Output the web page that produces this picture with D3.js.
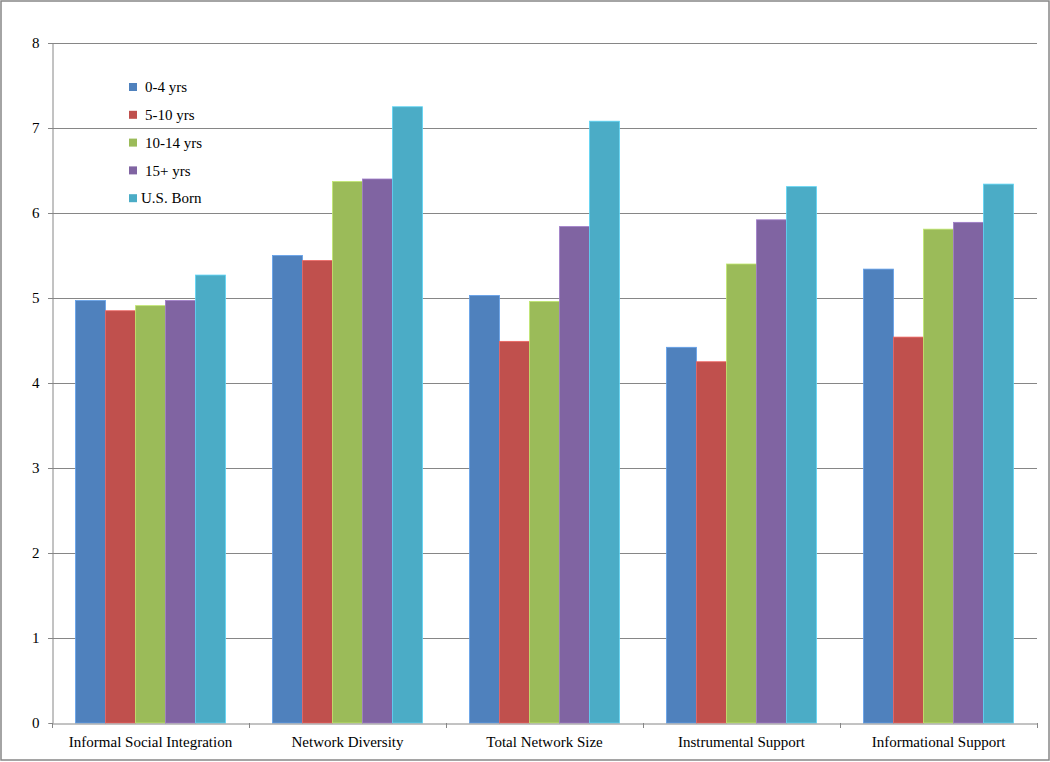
<!DOCTYPE html>
<html><head><meta charset="utf-8">
<script src="https://cdn.jsdelivr.net/npm/d3@7"></script>
<style>
html,body{margin:0;padding:0;background:#fff;}
svg{display:block;font-family:"Liberation Serif","Times New Roman",serif;}
</style></head>
<body>
<svg id="chart" width="1050" height="762"></svg>
<script>
const categories = ["Informal Social Integration","Network Diversity","Total Network Size","Instrumental Support","Informational Support"];
const seriesNames = ["0-4 yrs","5-10 yrs","10-14 yrs","15+ yrs","U.S. Born"];
const colors = ["#4F81BD","#C0504D","#9BBB59","#8064A2","#4BACC6"];
const s0_4 = [4.97,5.50,5.03,4.42,5.34];
const s5_10 = [4.85,5.44,4.49,4.25,4.54];
const s10_14 = [4.91,6.37,4.96,5.40,5.81];
const s15 = [4.97,6.40,5.84,5.92,5.89];
const sUS = [5.27,7.25,7.08,6.31,6.34];
const yTicks = [0,1,2,3,4,5,6,7,8];
const seriesValues = [s0_4,s5_10,s10_14,s15,sUS];

const svg = d3.select("#chart");
const L = 52, R = 1037, T = 43, B = 723;

svg.append("rect").attr("x",1).attr("y",1).attr("width",1048).attr("height",759)
  .attr("fill","#fff").attr("stroke","#878787").attr("stroke-width",1.5);

const x0 = d3.scaleBand().domain(categories).range([L,R]).padding(0);
const x1 = d3.scaleBand().domain(seriesNames).range([0,x0.bandwidth()]).paddingInner(0).paddingOuter(0.783);
const y = d3.scaleLinear().domain([0,8]).range([B,T]);

// gridlines
svg.append("g").selectAll("line").data(yTicks.filter(d=>d>0)).join("line")
  .attr("x1",L-4).attr("x2",R).attr("y1",d=>Math.round(y(d))+0.5).attr("y2",d=>Math.round(y(d))+0.5)
  .attr("stroke","#868686").attr("stroke-width",1);

// bars
const groups = svg.append("g").selectAll("g").data(categories).join("g")
  .attr("transform",d=>`translate(${x0(d)},0)`);
groups.selectAll("rect").data((c,ci)=>seriesNames.map((s,si)=>({s,si,v:seriesValues[si][ci]}))).join("rect")
  .attr("x",d=>x1(d.s)).attr("width",x1.bandwidth())
  .attr("y",d=>y(d.v)).attr("height",d=>B-y(d.v))
  .attr("fill",d=>colors[d.si])
  .attr("stroke",d=>d3.color(colors[d.si]).brighter(0.6)).attr("stroke-width",0.8);

// y axis
const yAxis = d3.axisLeft(y).tickValues(yTicks).tickSize(4).tickPadding(9).tickFormat(d3.format("d"));
const ya = svg.append("g").attr("transform",`translate(${L+0.5},0)`).call(yAxis);
ya.select(".domain").attr("stroke","#868686");
ya.selectAll(".tick line").attr("stroke","#868686");
ya.selectAll(".tick text").attr("font-size",15).attr("fill","#000").attr("font-family","Liberation Serif");

// x axis
const xa = svg.append("g").attr("transform",`translate(0,${B+0.5})`)
  .call(d3.axisBottom(x0).tickSize(0).tickPadding(13));
xa.select(".domain").attr("stroke","#868686");
xa.selectAll(".tick text").attr("font-size",15).attr("fill","#000").attr("font-family","Liberation Serif");
// category boundary ticks
const bounds = categories.map(c=>x0(c)).concat([x0(categories[categories.length-1])+x0.bandwidth()]);
svg.append("g").selectAll("line").data(bounds).join("line")
  .attr("x1",d=>Math.round(d)+0.5).attr("x2",d=>Math.round(d)+0.5).attr("y1",B).attr("y2",B+5)
  .attr("stroke","#868686");

// legend
const lg = svg.append("g").attr("transform","translate(129,87)");
const items = lg.selectAll("g").data(seriesNames).join("g")
  .attr("transform",(d,i)=>`translate(0,${i*27.8})`);
items.append("rect").attr("x",0).attr("y",-4).attr("width",8).attr("height",8).attr("fill",(d,i)=>colors[i]);
items.append("text").attr("x",(d,i)=>i===4?12:16).attr("y",0).attr("dy","0.35em")
  .attr("font-size",15).attr("fill","#000").text(d=>d);
</script>
</body></html>
